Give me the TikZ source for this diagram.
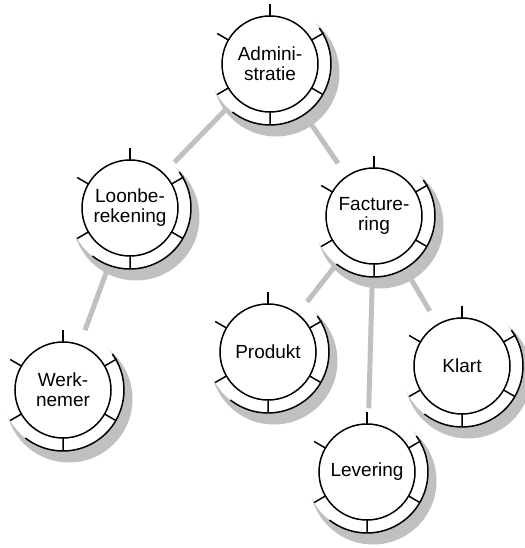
\documentclass[tikz,border=0pt]{standalone}
\usepackage{fontspec}
\setmainfont{Liberation Sans}
\usetikzlibrary{backgrounds,calc}
\definecolor{shadegray}{RGB}{192,192,192}
\tikzset{unit/.style={circle,draw,minimum size=96pt,inner sep=0pt,align=center,font=\fontsize{19}{20}\selectfont}}
\tikzset{link/.style={shadegray,line width=5pt,shorten <=15pt,shorten >=15pt}}

\begin{document}
\begin{tikzpicture}[x=1pt,y=1pt,line width=1.5pt]
		\useasboundingbox (0,0) rectangle (524,548);
		\node[unit] (adm) at (270,484) {Admini-\\stratie};
		\node[unit] (loon) at (130,340) {Loonbe-\\rekening};
		\node[unit] (fact) at (374,332) {Facture-\\ring};
		\node[unit] (werk) at (63,158) {Werk-\\nemer};
		\node[unit] (prod) at (268,196) {Produkt};
		\node[unit] (klart) at (462,182) {Klart};
		\node[unit] (lev) at (367,76) {Levering};
		\foreach \n in {adm,loon,fact,werk,prod,klart,lev}
		{\begin{scope}[shift={(\n.center)}]
			\draw (90:48) -- (90:60);
			\draw (150:48) -- (150:61) (210:48) -- (210:61);
			\draw (30:48) -- (30:62) (-30:48) -- (-30:61) (-90:48) -- (-90:61);
			\draw (36:61) arc[start angle=36,end angle=-128,radius=61];
		\end{scope}}
		\begin{pgfonlayer}{background}
			\draw[link] (adm) -- (loon);
			\draw[link] (adm) -- (fact);
			\draw[link] (loon) -- (werk);
			\draw[link] (fact) -- (prod);
			\draw[link] (fact) -- (lev);
			\draw[link] (fact) -- (klart);
			\foreach \n in {adm,loon,fact,werk,prod,klart,lev}
			{\fill[shadegray] ($(\n.center)+(6,-9)$) circle[radius=63.5pt];
				\fill[white] (\n.center) circle[radius=61pt];}
		\end{pgfonlayer}
\end{tikzpicture}
\end{document}
